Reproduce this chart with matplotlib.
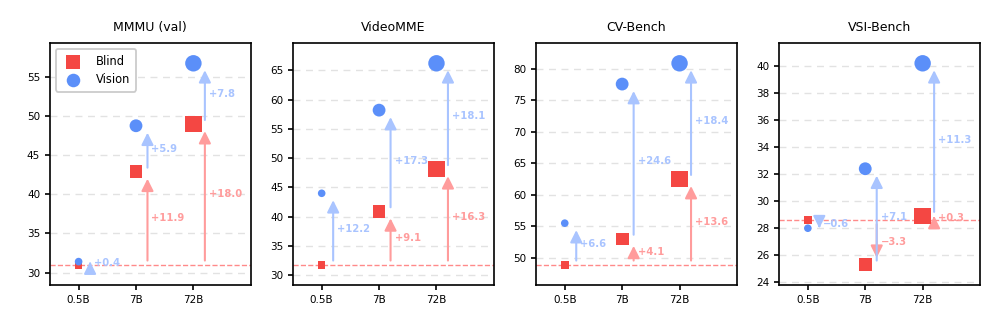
import numpy as np
import matplotlib
matplotlib.use('Agg')
import matplotlib.pyplot as plt

#%% data
sizes = ['0.5B', '7B', '72B']
benchmarks = ['MMMU (val)', 'VideoMME', 'CV-Bench', 'VSI-Bench']

blind = [
    [31.0, 42.9, 49.0],
    [31.8, 40.9, 48.1],
    [48.9, 53.0, 62.5],
    [28.6, 25.3, 28.9],
]
vision = [
    [31.4, 48.8, 56.8],
    [44.0, 58.2, 66.2],
    [55.5, 77.6, 80.9],
    [28.0, 32.4, 40.2],
]

#%% style
RED = '#F44743'
BLUE = '#5B8FF9'
RED_L = '#FF9C9C'
BLUE_L = '#A9C4FF'
marker_s = [30, 85, 140]


def fmt(d):
    return f'{d:+.1f}'.replace('-', '\u2212')


def arrow(ax, x, y0, y1, color):
    ax.annotate('', xy=(x, y1), xytext=(x, y0),
                arrowprops=dict(arrowstyle='-|>', color=color, lw=1.5,
                                mutation_scale=18, shrinkA=3, shrinkB=5),
                zorder=2)
    ax.text(x + 0.07, (y0 + y1) / 2, fmt(y1 - y0), color=color,
            fontsize=7.2, fontweight='bold', ha='left', va='center', zorder=2)


#%% plot
fig, axes = plt.subplots(1, 4, figsize=(9.98, 3.32), dpi=100)
fig.subplots_adjust(left=0.05, right=0.982, top=0.870, bottom=0.142, wspace=0.21)

x = np.arange(len(sizes))
for ax, name, b, v in zip(axes, benchmarks, blind, vision):
    base = b[0]
    ax.axhline(base, color='#FF8A8A', ls='--', lw=1, zorder=1)
    for i in range(len(sizes)):
        xa = x[i] + 0.2
        if i > 0:
            arrow(ax, xa, base, b[i], RED_L)
        arrow(ax, xa, b[i], v[i], BLUE_L)
    ax.scatter(x, b, s=marker_s, marker='s', color=RED, zorder=3, label='Blind', linewidths=0)
    ax.scatter(x, v, s=marker_s, marker='o', color=BLUE, zorder=4, label='Vision', linewidths=0)

    lo = min(min(b), min(v))
    hi = max(max(b), max(v))
    r = hi - lo
    ax.set_ylim(lo - 0.1 * r, hi + 0.1 * r)
    ax.set_xlim(-0.5, 3.0)
    ax.set_xticks(x)
    ax.set_xticklabels(sizes)
    ax.tick_params(labelsize=7.5, width=1.2)
    ax.yaxis.grid(True, ls=(0, (5, 4)), color='#E2E2E2', lw=1)
    ax.set_axisbelow(True)
    for s in ax.spines.values():
        s.set_linewidth(1.2)
    ax.set_title(name, fontsize=9, pad=9)

leg = axes[0].legend(loc='upper left', fontsize=8.3, handletextpad=1.0,
                     borderpad=0.5, labelspacing=0.45, framealpha=1, edgecolor='#CCCCCC')
leg.get_frame().set_linewidth(1.3)
leg.legend_handles[0].set_sizes([95])
leg.legend_handles[1].set_sizes([95])

plt.savefig('out.png', dpi=100)
